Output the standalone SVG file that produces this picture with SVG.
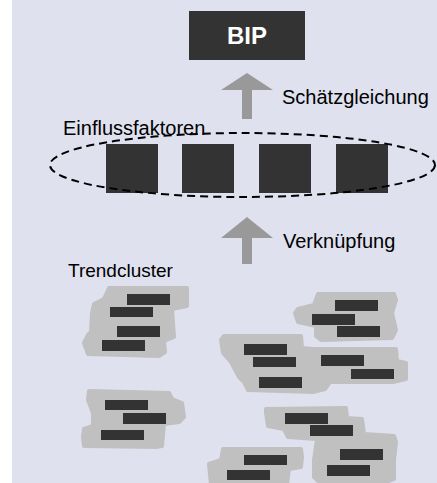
<svg xmlns="http://www.w3.org/2000/svg" width="437" height="483" viewBox="0 0 437 483">
<style>
.bg{fill:#dfe1ef}
.box{fill:#333333}
.bar{fill:#333333}
.blob{fill:#c0c0c0;stroke:#c0c0c0;stroke-width:4;stroke-linejoin:round}
.arrow{fill:#999999}
.lbl{font-family:"Liberation Sans",Arial,sans-serif;font-size:20px;fill:#000000}
.title{font-family:"Liberation Sans",Arial,sans-serif;font-size:24px;font-weight:bold;fill:#ffffff}
.ell{fill:none;stroke:#000000;stroke-width:2;stroke-dasharray:8,5}
</style>
<rect class="bg" x="12" y="0" width="425" height="483"/>

<g id="connectors">
  <polygon class="arrow" points="247,73 273,90 252,90 252,119 242,119 242,90 221,90"/>
  <polygon class="arrow" points="247,217 273,238 252,238 252,264 242,264 242,238 221,238"/>
  <text class="lbl" x="282" y="104">Schätzgleichung</text>
  <text class="lbl" x="283" y="248">Verknüpfung</text>
</g>

<g id="bip">
  <rect class="box" x="189" y="11" width="116" height="49"/>
  <text class="title" x="247" y="44" text-anchor="middle">BIP</text>
</g>

<g id="einflussfaktoren">
  <text class="lbl" x="63" y="135">Einflussfaktoren</text>
  <rect class="box" x="106" y="144" width="52" height="49"/>
  <rect class="box" x="182" y="144" width="52" height="49"/>
  <rect class="box" x="259" y="144" width="52" height="49"/>
  <rect class="box" x="336" y="144" width="52" height="49"/>
  <ellipse class="ell" cx="242.5" cy="165" rx="192.5" ry="32"/>
</g>

<g id="trendcluster">
  <text class="lbl" x="68" y="277" style="font-size:19px">Trendcluster</text>

  <g id="cluster1">
    <path class="blob" d="M109,288 L187,288 L187,306 L172,309 L174,337 L164,341 L165,352 L159,356 L88,354 L84,343 L88,335 L91,332 L92,313 L94,304 L104,299 Z"/>
    <rect class="bar" x="127" y="294" width="43" height="11"/>
    <rect class="bar" x="110" y="307" width="43" height="10"/>
    <rect class="bar" x="117" y="326" width="43" height="11"/>
    <rect class="bar" x="102" y="340" width="43" height="11"/>
  </g>

  <g id="cluster2">
    <path class="blob" d="M318,294 L394,294 L396,300 L392,313 L396,330 L392,338 L321,340 L316,336 L316,326 L298,322 L295,313 L298,309 L314,305 Z"/>
    <rect class="bar" x="335" y="300" width="43" height="11"/>
    <rect class="bar" x="312" y="314" width="43" height="11"/>
    <rect class="bar" x="337" y="326" width="43" height="11"/>
  </g>

  <g id="cluster3">
    <path class="blob" d="M224,336 L301,336 L302,348 L313,349 L396,349 L397,361 L406,363 L406,379 L393,382 L330,382 L325,389 L313,392 L248,390 L244,382 L239,377 L231,362 L223,353 L221,340 Z"/>
    <rect class="bar" x="244" y="344" width="43" height="11"/>
    <rect class="bar" x="253" y="357" width="43" height="10"/>
    <rect class="bar" x="259" y="377" width="43" height="11"/>
    <rect class="bar" x="321" y="355" width="43" height="11"/>
    <rect class="bar" x="351" y="369" width="43" height="10"/>
  </g>

  <g id="cluster4">
    <path class="blob" d="M89,391 L169,393 L172,399 L182,403 L184,417 L179,422 L164,424 L162,446 L156,447 L84,446 L83,437 L84,429 L93,426 L93,413 L88,400 Z"/>
    <rect class="bar" x="105" y="400" width="43" height="10"/>
    <rect class="bar" x="123" y="413" width="43" height="11"/>
    <rect class="bar" x="101" y="430" width="43" height="10"/>
  </g>

  <g id="cluster5">
    <path class="blob" d="M266,409 L346,408 L347,418 L362,419 L364,434 L394,436 L396,442 L394,460 L394,479 L389,481 L318,481 L314,477 L314,460 L317,439 L288,437 L284,429 L268,426 L266,413 Z"/>
    <rect class="bar" x="285" y="413" width="43" height="11"/>
    <rect class="bar" x="310" y="425" width="43" height="11"/>
    <rect class="bar" x="340" y="449" width="43" height="11"/>
    <rect class="bar" x="327" y="465" width="43" height="11"/>
  </g>

  <g id="cluster6">
    <path class="blob" d="M223,449 L301,449 L302,457 L301,467 L289,469 L287,485 L211,485 L209,464 L221,460 Z"/>
    <rect class="bar" x="244" y="455" width="43" height="10"/>
    <rect class="bar" x="227" y="470" width="43" height="10"/>
  </g>
</g>
</svg>
